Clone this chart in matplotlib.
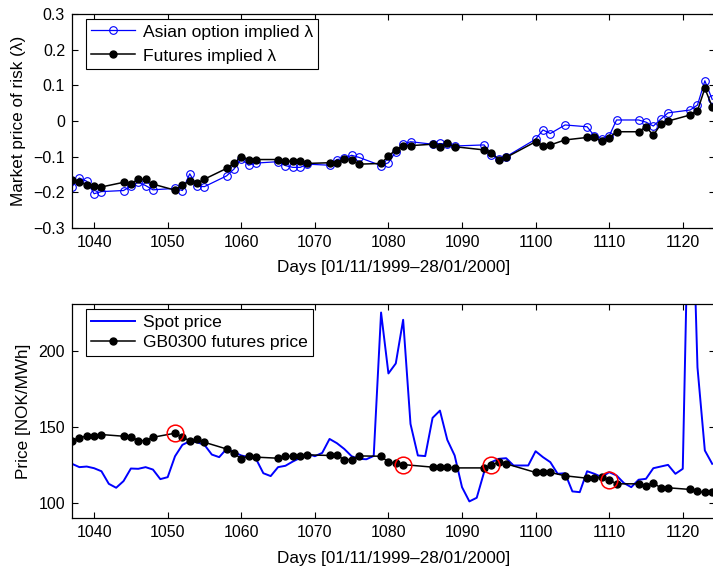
import matplotlib
matplotlib.use("Agg")
import matplotlib.pyplot as plt
from matplotlib.ticker import FuncFormatter

plt.rcParams['font.family'] = ['Liberation Sans', 'DejaVu Sans']
plt.rcParams['font.size'] = 11.5

# --- market price of risk (top) ---
days_lambda = [1037, 1038, 1039, 1040, 1041, 1044, 1045, 1046, 1047, 1048,
               1051, 1052, 1053, 1054, 1055, 1058, 1059, 1060, 1061, 1062,
               1065, 1066, 1067, 1068, 1069, 1072, 1073, 1074, 1075, 1076,
               1079, 1080, 1081, 1082, 1083, 1086, 1087, 1088, 1089, 1093,
               1094, 1095, 1096, 1100, 1101, 1102, 1104, 1107, 1108, 1109,
               1110, 1111, 1114, 1115, 1116, 1117, 1118, 1121, 1122, 1123, 1124]
asian_lambda = [-0.184, -0.160, -0.169, -0.204, -0.198, -0.195, -0.183, -0.172, -0.181, -0.193,
                -0.189, -0.195, -0.148, -0.183, -0.184, -0.154, -0.135, -0.106, -0.124, -0.118,
                -0.114, -0.125, -0.130, -0.130, -0.121, -0.124, -0.108, -0.105, -0.096, -0.102,
                -0.125, -0.117, -0.086, -0.065, -0.058, -0.065, -0.063, -0.065, -0.070, -0.067,
                -0.095, -0.106, -0.100, -0.051, -0.025, -0.035, -0.011, -0.016, -0.042, -0.049,
                -0.042, 0.003, 0.003, -0.003, -0.014, 0.005, 0.023, 0.031, 0.045, 0.113, 0.061]
futures_lambda = [-0.165, -0.170, -0.180, -0.183, -0.185, -0.172, -0.178, -0.163, -0.164, -0.177,
                  -0.194, -0.180, -0.168, -0.175, -0.163, -0.133, -0.119, -0.100, -0.108, -0.108,
                  -0.108, -0.112, -0.113, -0.113, -0.119, -0.117, -0.117, -0.106, -0.109, -0.121,
                  -0.119, -0.098, -0.081, -0.069, -0.069, -0.065, -0.072, -0.063, -0.072, -0.081,
                  -0.089, -0.108, -0.102, -0.058, -0.069, -0.067, -0.053, -0.046, -0.046, -0.056,
                  -0.047, -0.030, -0.030, -0.016, -0.040, -0.009, 0.000, 0.017, 0.029, 0.092, 0.040]

# --- prices (bottom) ---
days_futures = [1037, 1038, 1039, 1040, 1041, 1044, 1045, 1046, 1047, 1048,
                1051, 1052, 1053, 1054, 1055, 1058, 1059, 1060, 1061, 1062,
                1065, 1066, 1067, 1068, 1069, 1072, 1073, 1074, 1075, 1076,
                1079, 1080, 1081, 1082, 1086, 1087, 1088, 1089, 1093,
                1094, 1095, 1096, 1100, 1101, 1102, 1104, 1107, 1108, 1109,
                1110, 1111, 1114, 1115, 1116, 1117, 1118, 1121, 1122, 1123, 1124]
futures_price = [141.2, 143.2, 144.1, 144.5, 145.2, 144.1, 143.9, 141.2, 141.2, 143.4,
                 146.1, 143.4, 141.2, 142.1, 140.1, 135.7, 132.9, 129.2, 131.1, 130.3,
                 129.6, 130.9, 130.9, 130.9, 131.8, 131.4, 131.4, 128.7, 128.7, 131.1,
                 130.9, 127.0, 126.3, 125.4, 123.7, 123.7, 123.7, 123.2, 123.2,
                 124.8, 127.2, 125.9, 120.2, 120.8, 120.2, 118.0, 116.4, 116.4, 117.1,
                 115.4, 112.7, 112.7, 111.4, 113.2, 110.1, 110.1, 109.0, 107.7, 107.0, 107.5]
days_spot = list(range(1037, 1125))
spot_price = [125.9, 123.7, 124.1, 123.0, 121.0, 112.7, 110.1, 114.5, 122.8, 122.6,
              123.7, 122.1, 115.8, 117.1, 130.9, 138.4, 140.8, 140.1, 138.4, 132.0,
              130.3, 135.7, 133.6, 131.4, 130.3, 129.2, 119.7, 117.8, 123.7, 124.6,
              127.4, 129.8, 132.5, 130.9, 133.1, 142.3, 139.5, 135.7, 130.9, 129.2,
              128.9, 131.1, 225.7, 185.5, 192.1, 220.9, 152.2, 131.4, 131.0, 156.2,
              161.0, 141.7, 131.4, 110.5, 101.1, 103.5, 120.4, 127.0, 129.2, 129.6,
              124.8, 124.8, 124.8, 134.2, 130.3, 127.0, 119.3, 119.7, 107.7, 107.2,
              121.0, 119.3, 117.1, 120.4, 118.2, 113.2, 110.5, 115.4, 116.0, 123.0,
              124.1, 125.2, 119.3, 122.6, 355.0, 189.5, 134.7, 125.9]
marked_days = [1051, 1082, 1094, 1110]

xlabel = "Days [01/11/1999\u201328/01/2000]"


def matlab_fmt(v, pos):
    if abs(v) < 1e-9:
        return "0"
    s = "%g" % round(v, 3)
    return s.replace("-", "\u2212")


def style_axes(ax):
    ax.tick_params(direction='in', top=True, right=True, length=4, width=0.8,
                   labelsize=11.5, pad=5)
    for sp in ax.spines.values():
        sp.set_linewidth(0.9)
    ax.set_xlim(1037, 1124.4)
    ax.set_xticks(range(1040, 1121, 10))
    ax.set_xlabel(xlabel, fontsize=12.3, labelpad=7.5)


def add_legend(ax, spacing):
    leg = ax.legend(loc='upper left', bbox_to_anchor=(0.022, 0.977),
                    borderaxespad=0, fancybox=False, edgecolor='black',
                    framealpha=1, fontsize=12.6, handlelength=2.5,
                    borderpad=0.3, labelspacing=spacing, handletextpad=0.45)
    leg.get_frame().set_linewidth(0.8)
    return leg


fig = plt.figure(figsize=(7.13, 5.67), dpi=100)
ax1 = fig.add_axes([0.101, 0.598, 0.902, 0.377])
ax2 = fig.add_axes([0.101, 0.086, 0.902, 0.377])

ax1.plot(days_lambda, asian_lambda, color='#0000ff', lw=0.9, marker='o',
         ms=5.5, mfc='none', mec='#0000ff', mew=0.8, label="Asian option implied \u03bb")
ax1.plot(days_lambda, futures_lambda, color='black', lw=1.1, marker='o',
         ms=5, mfc='black', mec='black', label="Futures implied \u03bb")
ax1.set_ylim(-0.3, 0.3)
ax1.set_yticks([-0.3, -0.2, -0.1, 0, 0.1, 0.2, 0.3])
ax1.yaxis.set_major_formatter(FuncFormatter(matlab_fmt))
ax1.set_ylabel("Market price of risk (\u03bb)", fontsize=12.3, labelpad=5)
style_axes(ax1)
add_legend(ax1, 0.5)

ax2.plot(days_spot, spot_price, color='#0000ff', lw=1.4, label="Spot price")
ax2.plot(days_futures, futures_price, color='black', lw=1.1, marker='o',
         ms=5, mfc='black', mec='black', label="GB0300 futures price")
mark_vals = [futures_price[days_futures.index(d)] for d in marked_days]
ax2.plot(marked_days, mark_vals, linestyle='none', marker='o', ms=12,
         mfc='none', mec='red', mew=1.1)
ax2.set_ylim(90, 231)
ax2.set_yticks([100, 150, 200])
ax2.set_ylabel("Price [NOK/MWh]", fontsize=12.3, labelpad=5)
style_axes(ax2)
add_legend(ax2, 0.3)

fig.savefig("out.png", dpi=100)
